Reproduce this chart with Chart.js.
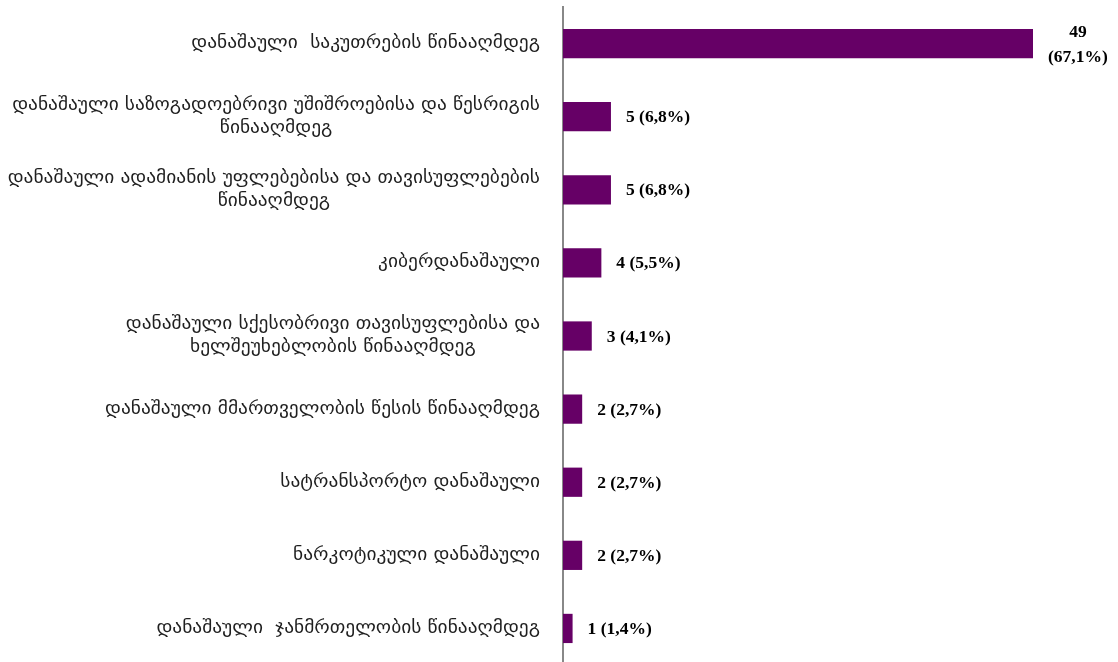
<!DOCTYPE html>
<html>
<head>
<meta charset="utf-8">
<script src="https://cdn.jsdelivr.net/npm/chart.js@4"></script>
<style>
  html, body { margin: 0; padding: 0; background: #fff; overflow: hidden; }
  #wrap { position: relative; width: 1118px; height: 666px; }
</style>
</head>
<body>
<div id="wrap"><canvas id="c"></canvas></div>
<script>
const categories = [
  ["დანაშაული  საკუთრების წინააღმდეგ"],
  ["დანაშაული საზოგადოებრივი უშიშროებისა და წესრიგის", "წინააღმდეგ"],
  ["დანაშაული ადამიანის უფლებებისა და თავისუფლებების", "წინააღმდეგ"],
  ["კიბერდანაშაული"],
  ["დანაშაული სქესობრივი თავისუფლებისა და", "ხელშეუხებლობის წინააღმდეგ"],
  ["დანაშაული მმართველობის წესის წინააღმდეგ"],
  ["სატრანსპორტო დანაშაული"],
  ["ნარკოტიკული დანაშაული"],
  ["დანაშაული  ჯანმრთელობის წინააღმდეგ"]
];
const counts = [49, 5, 5, 4, 3, 2, 2, 2, 1];
const percents = [67.1, 6.8, 6.8, 5.5, 4.1, 2.7, 2.7, 2.7, 1.4];

const catFont = '17.5px "DejaVu Sans", sans-serif';
const catStretch = 1.11;
const valFont = 'bold 17.5px "Liberation Serif", "DejaVu Serif", serif';

const labelsPlugin = {
  id: 'customLabels',
  afterDraw(chart) {
    const ctx = chart.ctx;
    const y = chart.scales.y;
    const meta = chart.getDatasetMeta(0);
    ctx.save();
    // category labels
    ctx.font = catFont;
    ctx.fillStyle = '#1f1f1f';
    ctx.textBaseline = 'middle';
    ctx.textAlign = 'center';
    const rightEdge = chart.chartArea.left - 23;
    categories.forEach((lines, i) => {
      const cy = y.getPixelForValue(i);
      const maxW = Math.max(...lines.map(l => ctx.measureText(l).width)) * catStretch;
      const cx = rightEdge - maxW / 2;
      const lh = 23;
      const startY = cy - (lines.length - 1) * lh / 2;
      lines.forEach((l, k) => {
        ctx.save();
        ctx.translate(cx, startY + k * lh);
        ctx.scale(catStretch, 1);
        ctx.fillText(l, 0, 0);
        ctx.restore();
      });
    });
    // value labels
    ctx.font = valFont;
    ctx.fillStyle = '#000';
    meta.data.forEach((bar, i) => {
      const pct = percents[i].toFixed(1).replace('.', ',');
      const full = counts[i] + ' (' + pct + '%)';
      const x0 = bar.x + 13;
      let lines = [full];
      if (x0 + ctx.measureText(full).width > chart.width - 4) {
        lines = [String(counts[i]), '(' + pct + '%)'];
      }
      const maxW = Math.max(...lines.map(l => ctx.measureText(l).width));
      const cx = x0 + 2 + maxW / 2;
      const lh = 25;
      const startY = bar.y + 1 - (lines.length - 1) * lh / 2;
      ctx.textAlign = 'center';
      lines.forEach((l, k) => ctx.fillText(l, cx, startY + k * lh));
    });
    ctx.restore();
  }
};

new Chart(document.getElementById('c'), {
  type: 'bar',
  data: {
    labels: categories.map(c => c.join(' ')),
    datasets: [{
      data: counts,
      backgroundColor: '#660066',
      borderWidth: 0,
      barPercentage: 0.4,
      categoryPercentage: 1
    }]
  },
  options: {
    indexAxis: 'y',
    responsive: true,
    maintainAspectRatio: false,
    animation: false,
    layout: { padding: { top: 7, bottom: 1, left: 0, right: 85 } },
    plugins: { legend: { display: false }, tooltip: { enabled: false } },
    scales: {
      x: { display: false, min: 0, max: 49 },
      y: {
        display: true,
        grid: { display: false },
        border: { display: true, color: '#888888', width: 2 },
        ticks: { display: false },
        afterFit(s) { s.width = 563; }
      }
    }
  },
  plugins: [labelsPlugin]
});
</script>
</body>
</html>
